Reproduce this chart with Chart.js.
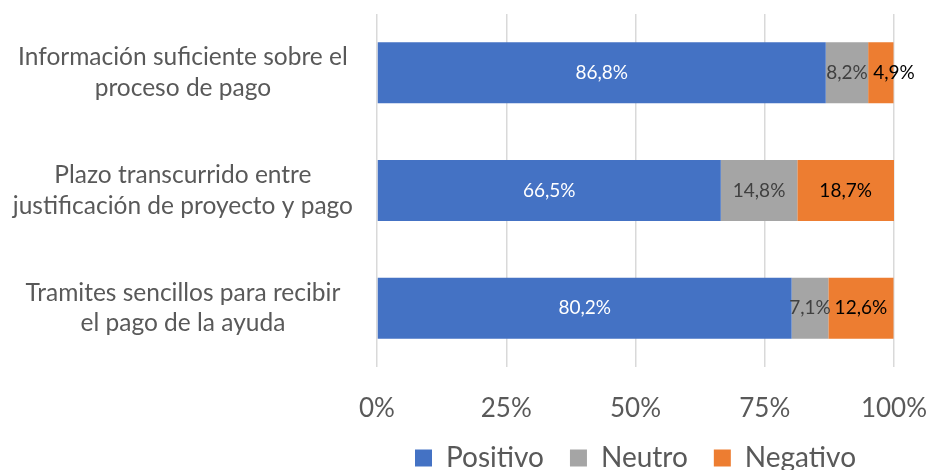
<!DOCTYPE html>
<html>
<head>
<meta charset="utf-8">
<script src="https://cdn.jsdelivr.net/npm/chart.js@4.4.1/dist/chart.umd.min.js"></script>
<style>
  html, body { margin: 0; padding: 0; background: #fff; overflow: hidden; }
  canvas { display: block; }
</style>
</head>
<body>
<canvas id="myChart" width="933" height="470"></canvas>
<script>
// datos
const categories = [
  ['Información suficiente sobre el', 'proceso de pago'],
  ['Plazo transcurrido entre', 'justificación de proyecto y pago'],
  ['Tramites sencillos para recibir', 'el pago de la ayuda']
];
const positivo = [86.8, 66.5, 80.2];
const neutro = [8.2, 14.8, 7.1];
const negativo = [4.9, 18.7, 12.6];
const xTicks = [0, 25, 50, 75, 100];

const COLORS = {
  blue: '#4472C4',
  gray: '#A5A5A5',
  orange: '#ED7D31',
  text: '#595959'
};
const FONT = 'Lato';

const fmt = v => v.toFixed(1).replace('.', ',') + '%';

// etiquetas dentro de cada segmento
const barLabels = {
  id: 'barLabels',
  afterDatasetsDraw(chart) {
    const ctx = chart.ctx;
    ctx.save();
    ctx.font = '19px ' + FONT;
    ctx.textBaseline = 'middle';
    chart.data.datasets.forEach((ds, di) => {
      const meta = chart.getDatasetMeta(di);
      meta.data.forEach((bar, i) => {
        const {x, y, base} = bar.getProps(['x', 'y', 'base'], true);
        const txt = fmt(ds.data[i]);
        const w = ctx.measureText(txt).width;
        ctx.fillStyle = ds.labelColor;
        const last = di === chart.data.datasets.length - 1;
        if (last && w > (x - base)) {
          ctx.textAlign = 'left';
          ctx.fillText(txt, base + 5, y);
        } else {
          ctx.textAlign = 'center';
          ctx.fillText(txt, (x + base) / 2, y);
        }
      });
    });
    ctx.restore();
  }
};

// alto fijo para la leyenda; se sube un poco su borde superior
const legendFix = {
  id: 'legendFix',
  beforeLayout(chart) {
    const lg = chart.legend;
    if (!lg || lg._patched) return;
    const origFit = lg.fit;
    lg.fit = function () {
      origFit.call(this);
      this.height = 46;
    };
    lg._patched = true;
  },
  afterLayout(chart) {
    chart.legend.top -= 6;
  }
};

const data = {
  labels: categories,
  datasets: [
    { label: 'Positivo', data: positivo, backgroundColor: COLORS.blue, labelColor: '#FFFFFF' },
    { label: 'Neutro', data: neutro, backgroundColor: COLORS.gray, labelColor: '#404040' },
    { label: 'Negativo', data: negativo, backgroundColor: COLORS.orange, labelColor: '#000000' }
  ]
};

const config = {
  type: 'bar',
  data: data,
  plugins: [barLabels, legendFix],
  options: {
    indexAxis: 'y',
    responsive: false,
    animation: false,
    layout: {
      padding: { top: 14, right: 39, left: 0, bottom: 0 }
    },
    datasets: {
      bar: { barPercentage: 1, categoryPercentage: 0.518, borderWidth: 0 }
    },
    plugins: {
      tooltip: { enabled: false },
      title: { display: false },
      legend: {
        position: 'bottom',
        fullSize: false,
        align: 'center',
        labels: {
          boxWidth: 17,
          boxHeight: 17,
          padding: 26,
          color: COLORS.text,
          font: { family: FONT, size: 28 }
        }
      }
    },
    scales: {
      x: {
        stacked: true,
        min: 0,
        max: 100,
        afterBuildTicks: scale => { scale.ticks = xTicks.map(v => ({ value: v })); },
        afterFit: scale => {
          scale.height = 57;
          scale.paddingLeft = 0;
          scale.paddingRight = 0;
        },
        grid: { color: '#D9D9D9', lineWidth: 1.5, drawTicks: false },
        border: { display: false },
        ticks: {
          padding: 26,
          color: COLORS.text,
          font: { family: FONT, size: 26, lineHeight: 1.2 },
          callback: v => v + '%'
        }
      },
      y: {
        stacked: true,
        afterFit: scale => {
          scale.width = 377;
          scale.paddingTop = 0;
          scale.paddingBottom = 0;
        },
        grid: { display: false },
        border: { display: false },
        ticks: {
          crossAlign: 'center',
          padding: 16,
          color: COLORS.text,
          font: { family: FONT, size: 24.5, lineHeight: 1.25 }
        }
      }
    }
  }
};

const myChart = new Chart(document.getElementById('myChart').getContext('2d'), config);
</script>
</body>
</html>
